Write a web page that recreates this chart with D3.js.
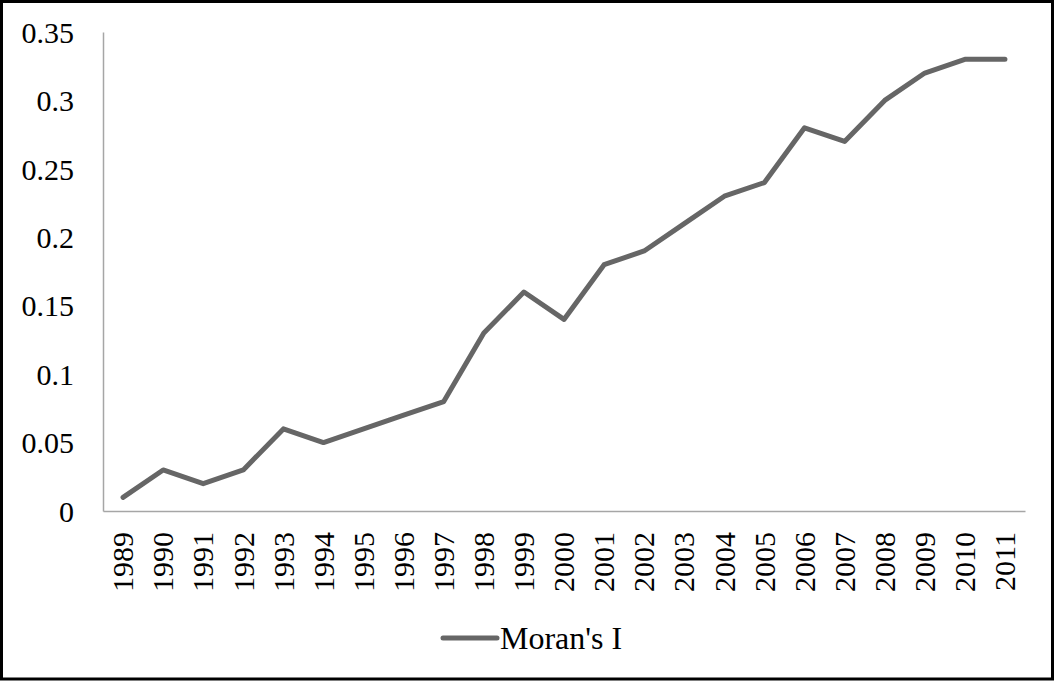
<!DOCTYPE html>
<html>
<head>
<meta charset="utf-8">
<script src="https://cdn.jsdelivr.net/npm/d3@7"></script>
<style>
  html, body { margin: 0; padding: 0; background: #fff; }
  svg { display: block; }
  text { font-family: "Liberation Serif", "Times New Roman", serif; fill: #000; }
</style>
</head>
<body>
<svg id="chart"></svg>
<script>
const years = ["1989","1990","1991","1992","1993","1994","1995","1996","1997","1998","1999","2000",
  "2001","2002","2003","2004","2005","2006","2007","2008","2009","2010","2011"];
const moransI = [0.01,0.03,0.02,0.03,0.06,0.05,0.06,0.07,0.08,0.13,0.16,0.14,
  0.18,0.19,0.21,0.23,0.24,0.28,0.27,0.30,0.32,0.33,0.33];
const yTicks = [0,0.05,0.1,0.15,0.2,0.25,0.3,0.35];
const seriesName = "Moran's I";

const width = 1056, height = 681;
const margin = { top: 32, right: 31, bottom: 170, left: 103 };

const svg = d3.select("#chart").attr("width", width).attr("height", height);

// frame round the whole picture
svg.append("rect")
  .attr("x", 1.5).attr("y", 1.5)
  .attr("width", 1051).attr("height", 677.5)
  .attr("fill", "none").attr("stroke", "#000").attr("stroke-width", 3);

const innerW = width - margin.left - margin.right;
const innerH = height - margin.top - margin.bottom;

const g = svg.append("g").attr("transform", `translate(${margin.left},${margin.top})`);

const x = d3.scaleBand().domain(years).range([0, innerW]);
const y = d3.scaleLinear().domain([0, 0.35]).range([innerH, 0]);

// y axis
const yAxis = g.append("g")
  .call(d3.axisLeft(y).tickValues(yTicks).tickSize(0).tickPadding(29)
    .tickFormat(d => d === 0 ? "0" : String(+d.toFixed(2))));
yAxis.select(".domain").attr("stroke", "#a6a6a6").attr("stroke-width", 1.5);
yAxis.selectAll("text").style("font-size", "30px").attr("dy", "0.34em");

// x axis
const xAxis = g.append("g")
  .attr("transform", `translate(0,${innerH})`)
  .call(d3.axisBottom(x).tickSize(0).tickPadding(0));
xAxis.select(".domain").attr("stroke", "#a6a6a6").attr("stroke-width", 1.5);
xAxis.selectAll("text")
  .style("font-size", "30px")
  .attr("text-anchor", "end")
  .attr("transform", "rotate(-90)")
  .attr("x", -21)
  .attr("y", 0)
  .attr("dy", "0.34em");

// series line
const line = d3.line()
  .x((d, i) => x(years[i]) + x.bandwidth() / 2)
  .y(d => y(d));

g.append("path")
  .datum(moransI)
  .attr("d", line)
  .attr("fill", "none")
  .attr("stroke", "#666666")
  .attr("stroke-width", 5)
  .attr("stroke-linejoin", "round")
  .attr("stroke-linecap", "round");

// legend
const legend = svg.append("g").attr("transform", "translate(443,638)");
legend.append("line")
  .attr("x1", 0).attr("x2", 54).attr("y1", 0).attr("y2", 0)
  .attr("stroke", "#666666").attr("stroke-width", 5).attr("stroke-linecap", "round");
legend.append("text")
  .attr("x", 57).attr("y", 11)
  .style("font-size", "32px")
  .text(seriesName);
</script>
</body>
</html>
